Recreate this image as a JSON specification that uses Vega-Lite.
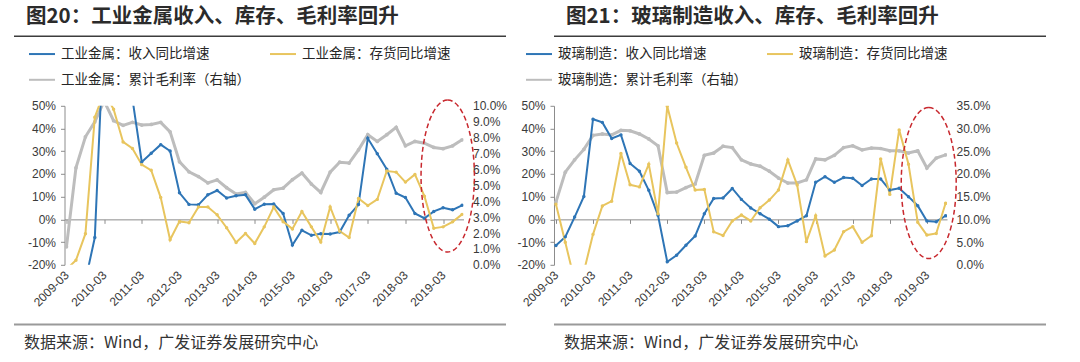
{
  "$schema": "https://vega.github.io/schema/vega-lite/v6.json",
  "padding": {"left": 13, "top": 6, "right": 5, "bottom": 5},
  "background": "white",
  "config": {
    "view": {"stroke": null},
    "axis": {"labelFont": "Liberation Sans", "labelFontSize": 12, "labelColor": "#3a3a3a", "grid": false}
  },
  "columns": 2,
  "spacing": {"row": 59.8, "column": 40},
  "bounds": "flush",
  "center": true,
  "resolve": {"scale": {"color": "independent"}, "legend": {"color": "independent"}},
  "concat": [
    {
      "width": 500, "height": 9.4,
      "data": {"values": []},
      "mark": {"type": "rule"},
      "encoding": {},
      "view": {"fill": null, "stroke": "#3c3c3c", "strokeWidth": 1.5, "strokeDash": [492, 3000]},
      "title": {"text": "图20：工业金属收入、库存、毛利率回升", "anchor": "start", "dx": 12, "dy": 16, "offset": 9, "baseline": "alphabetic", "font": "Noto Sans CJK SC", "fontSize": 20.5, "fontWeight": "bold", "color": "#2b2b2b"}
    },
    {
      "width": 496, "height": 9.4,
      "data": {"values": []},
      "mark": {"type": "rule"},
      "encoding": {},
      "view": {"fill": null, "stroke": "#3c3c3c", "strokeWidth": 1.5, "strokeDash": [492, 3000]},
      "title": {"text": "图21：玻璃制造收入、库存、毛利率回升", "anchor": "start", "dx": 12, "dy": 16, "offset": 9, "baseline": "alphabetic", "font": "Noto Sans CJK SC", "fontSize": 20.5, "fontWeight": "bold", "color": "#2b2b2b"}
    },
    {
      "width": 399, "height": 159,
      "data": {"values": [
        {"d": "2009-03-01", "i": -22, "g": 1.13},
        {"d": "2009-06-01", "i": -18, "g": 6.1},
        {"d": "2009-09-01", "r": -27, "i": -6.3, "g": 8.05},
        {"d": "2009-12-01", "r": -8, "i": 45, "g": 8.99},
        {"d": "2010-03-01", "r": 86, "i": 56, "g": 10.3},
        {"d": "2010-06-01", "r": 75, "i": 48.5, "g": 9.06},
        {"d": "2010-09-01", "r": 62, "i": 34.1, "g": 8.77},
        {"d": "2010-12-01", "r": 53, "i": 31.2, "g": 8.96},
        {"d": "2011-03-01", "r": 25.3, "i": 24.1, "g": 8.79},
        {"d": "2011-06-01", "r": 29.1, "i": 21.6, "g": 8.83},
        {"d": "2011-09-01", "r": 32.9, "i": 9.6, "g": 8.96},
        {"d": "2011-12-01", "r": 30.1, "i": -9.0, "g": 8.36},
        {"d": "2012-03-01", "r": 11.7, "i": -0.9, "g": 6.48},
        {"d": "2012-06-01", "r": 6.6, "i": -1.5, "g": 5.85},
        {"d": "2012-09-01", "r": 6.4, "i": 5.5, "g": 5.55},
        {"d": "2012-12-01", "r": 10.8, "i": 5.5, "g": 5.15},
        {"d": "2013-03-01", "r": 12.7, "i": 2.0, "g": 5.34},
        {"d": "2013-06-01", "r": 9.4, "i": -3.7, "g": 4.85},
        {"d": "2013-09-01", "r": 10.4, "i": -10.2, "g": 4.45},
        {"d": "2013-12-01", "r": 10.8, "i": -6.2, "g": 4.55},
        {"d": "2014-03-01", "r": 4.5, "i": -10.6, "g": 3.84},
        {"d": "2014-06-01", "r": 6.7, "i": -3.3, "g": 4.25},
        {"d": "2014-09-01", "r": 6.8, "i": 5.4, "g": 4.72},
        {"d": "2014-12-01", "r": 2.6, "i": -1.0, "g": 4.82},
        {"d": "2015-03-01", "r": -11.3, "i": -4.2, "g": 5.35},
        {"d": "2015-06-01", "r": -4.8, "i": 3.5, "g": 5.77},
        {"d": "2015-09-01", "r": -7.0, "i": -3.3, "g": 5.08},
        {"d": "2015-12-01", "r": -6.3, "i": -10.0, "g": 4.55},
        {"d": "2016-03-01", "r": -6.4, "i": 5.5, "g": 5.83},
        {"d": "2016-06-01", "r": -5.6, "i": -5.2, "g": 6.45},
        {"d": "2016-09-01", "r": 1.8, "i": -8.0, "g": 6.40},
        {"d": "2016-12-01", "r": 6.5, "i": 9.2, "g": 7.23},
        {"d": "2017-03-01", "r": 35.7, "i": 6.1, "g": 8.18},
        {"d": "2017-06-01", "r": 28.9, "i": 8.8, "g": 7.76},
        {"d": "2017-09-01", "r": 22.1, "i": 21.3, "g": 8.18},
        {"d": "2017-12-01", "r": 11.5, "i": 20.8, "g": 8.64},
        {"d": "2018-03-01", "r": 9.6, "i": 16.4, "g": 7.48},
        {"d": "2018-06-01", "r": 2.6, "i": 19.8, "g": 7.76},
        {"d": "2018-09-01", "r": 0.5, "i": 10.2, "g": 7.65},
        {"d": "2018-12-01", "r": 3.5, "i": -3.9, "g": 7.38},
        {"d": "2019-03-01", "r": 5.1, "i": -3.3, "g": 7.30},
        {"d": "2019-06-01", "r": 4.2, "i": -1.1, "g": 7.48},
        {"d": "2019-09-01", "r": 6.2, "i": 2.2, "g": 7.86}
      ]},
      "resolve": {"scale": {"y": "independent"}, "axis": {"x": "independent", "y": "independent"}},
      "layer": [
        {
          "transform": [{"fold": ["g"], "as": ["s", "v"]}],
          "mark": {"type": "line", "clip": true, "strokeWidth": 3, "point": {"filled": true, "size": 14}},
          "encoding": {
            "x": {"field": "d", "type": "temporal",
              "scale": {"type": "utc", "domain": [{"year": 2009, "month": 2, "date": 10, "utc": true}, {"year": 2019, "month": 9, "date": 15, "utc": true}]},
              "axis": {"orient": "bottom", "offset": -45.43, "labels": false, "domain": true, "domainColor": "#8c8c8c", "domainWidth": 1, "ticks": true, "tickSize": 4, "tickColor": "#8c8c8c", "title": null,
                "values": [{"year": 2009, "month": 3, "date": 1, "utc": true}, {"year": 2010, "month": 3, "date": 1, "utc": true}, {"year": 2011, "month": 3, "date": 1, "utc": true}, {"year": 2012, "month": 3, "date": 1, "utc": true}, {"year": 2013, "month": 3, "date": 1, "utc": true}, {"year": 2014, "month": 3, "date": 1, "utc": true}, {"year": 2015, "month": 3, "date": 1, "utc": true}, {"year": 2016, "month": 3, "date": 1, "utc": true}, {"year": 2017, "month": 3, "date": 1, "utc": true}, {"year": 2018, "month": 3, "date": 1, "utc": true}, {"year": 2019, "month": 3, "date": 1, "utc": true}]}},
            "y": {"field": "v", "type": "quantitative", "scale": {"domain": [0, 10], "nice": false, "zero": false},
              "axis": {"orient": "right", "values": [0, 1, 2, 3, 4, 5, 6, 7, 8, 9, 10], "labelExpr": "format(datum.value, '.1f') + '%'", "domain": false, "ticks": false, "labelPadding": 9, "title": null}},
            "color": {"field": "s", "type": "nominal",
              "scale": {"domain": ["r", "i", "g"], "range": ["#2E75B6", "#E8C55E", "#BDBDBD"]},
              "legend": {"orient": "none", "legendX": -36.5, "legendY": -66, "direction": "horizontal", "columns": 2, "columnPadding": 16, "rowPadding": 5, "symbolType": "stroke", "symbolSize": 676, "symbolStrokeWidth": 2, "labelFont": "Noto Sans CJK SC", "labelFontSize": 13.5, "labelColor": "#262626", "labelOffset": 5, "labelLimit": 400, "title": null, "padding": 0,
                "labelExpr": "datum.label == 'r' ? '工业金属：收入同比增速' : datum.label == 'i' ? '工业金属：存货同比增速' : '工业金属：累计毛利率（右轴）'"}}
          }
        },
        {
          "transform": [{"fold": ["r", "i"], "as": ["s", "v"]}],
          "mark": {"type": "line", "clip": true, "strokeWidth": 2, "point": {"filled": true, "size": 12}},
          "encoding": {
            "x": {"field": "d", "type": "temporal",
              "axis": {"orient": "bottom", "labelExpr": "utcFormat(datum.value, '%Y-%m')", "labelAngle": -45, "labelAlign": "right", "labelBaseline": "middle", "labelPadding": 8, "labelOverlap": false, "domain": false, "ticks": false, "title": null,
                "values": [{"year": 2009, "month": 3, "date": 1, "utc": true}, {"year": 2010, "month": 3, "date": 1, "utc": true}, {"year": 2011, "month": 3, "date": 1, "utc": true}, {"year": 2012, "month": 3, "date": 1, "utc": true}, {"year": 2013, "month": 3, "date": 1, "utc": true}, {"year": 2014, "month": 3, "date": 1, "utc": true}, {"year": 2015, "month": 3, "date": 1, "utc": true}, {"year": 2016, "month": 3, "date": 1, "utc": true}, {"year": 2017, "month": 3, "date": 1, "utc": true}, {"year": 2018, "month": 3, "date": 1, "utc": true}, {"year": 2019, "month": 3, "date": 1, "utc": true}]}},
            "y": {"field": "v", "type": "quantitative", "scale": {"domain": [-20, 50], "nice": false},
              "axis": {"orient": "left", "values": [-20, -10, 0, 10, 20, 30, 40, 50], "labelExpr": "datum.value + '%'", "domain": true, "domainColor": "#8c8c8c", "ticks": true, "tickSize": 4, "tickColor": "#8c8c8c", "labelPadding": 5, "title": null}},
            "color": {"field": "s", "type": "nominal",
              "scale": {"domain": ["r", "i", "g"], "range": ["#2E75B6", "#E8C55E", "#BDBDBD"]},
              "legend": {"orient": "none", "legendX": -36.5, "legendY": -66, "direction": "horizontal", "columns": 2, "columnPadding": 16, "rowPadding": 5, "symbolType": "stroke", "symbolSize": 676, "symbolStrokeWidth": 2, "labelFont": "Noto Sans CJK SC", "labelFontSize": 13.5, "labelColor": "#262626", "labelOffset": 5, "labelLimit": 400, "title": null, "padding": 0,
                "labelExpr": "datum.label == 'r' ? '工业金属：收入同比增速' : datum.label == 'i' ? '工业金属：存货同比增速' : '工业金属：累计毛利率（右轴）'"}}
          }
        },
        {
          "data": {"values": [{"d": "2019-04-15", "v": 19.1}]},
          "mark": {"type": "point", "shape": "M0,-1A0.351,1,0,1,1,0,1A0.351,1,0,1,1,0,-1Z", "size": 23104, "filled": false, "color": "#C8282E", "strokeWidth": 1.5, "strokeDash": [5, 3], "opacity": 1},
          "encoding": {
            "x": {"field": "d", "type": "temporal", "axis": null},
            "y": {"field": "v", "type": "quantitative", "scale": {"domain": [-20, 50], "nice": false}, "axis": null}
          }
        }
      ]
    },
    {
      "width": 393, "height": 159,
      "data": {"values": [
        {"d": "2009-03-01", "r": -11.5, "i": 6.7, "g": 13.8},
        {"d": "2009-06-01", "r": -7.7, "i": -10.1, "g": 20.4},
        {"d": "2009-09-01", "r": 1.0, "i": -27, "g": 23.1},
        {"d": "2009-12-01", "r": 10.1, "i": -23, "g": 25.4},
        {"d": "2010-03-01", "r": 44.1, "i": -6.6, "g": 28.5},
        {"d": "2010-06-01", "r": 42.7, "i": 5.9, "g": 28.8},
        {"d": "2010-09-01", "r": 35.6, "i": 8.0, "g": 28.6},
        {"d": "2010-12-01", "r": 37.2, "i": 29.0, "g": 29.6},
        {"d": "2011-03-01", "r": 24.6, "i": 15.2, "g": 29.5},
        {"d": "2011-06-01", "r": 21.2, "i": 14.3, "g": 28.8},
        {"d": "2011-09-01", "r": 12.8, "i": 24.3, "g": 27.7},
        {"d": "2011-12-01", "r": 1.8, "i": 2.5, "g": 26.2},
        {"d": "2012-03-01", "r": -18.7, "i": 49.8, "g": 15.9},
        {"d": "2012-06-01", "r": -15.8, "i": 33.6, "g": 16.0},
        {"d": "2012-09-01", "r": -11.4, "i": 22.9, "g": 17.0},
        {"d": "2012-12-01", "r": -7.3, "i": 12.9, "g": 17.8},
        {"d": "2013-03-01", "r": 2.5, "i": 13.2, "g": 24.1},
        {"d": "2013-06-01", "r": 9.2, "i": -5.5, "g": 24.6},
        {"d": "2013-09-01", "r": 9.4, "i": -7.1, "g": 26.1},
        {"d": "2013-12-01", "r": 13.6, "i": -0.7, "g": 25.8},
        {"d": "2014-03-01", "r": 8.8, "i": 1.9, "g": 23.1},
        {"d": "2014-06-01", "r": 5.0, "i": -0.7, "g": 22.2},
        {"d": "2014-09-01", "r": 2.5, "i": 5.1, "g": 21.7},
        {"d": "2014-12-01", "r": 0.1, "i": 8.5, "g": 20.6},
        {"d": "2015-03-01", "r": -3.2, "i": 12.9, "g": 19.1},
        {"d": "2015-06-01", "r": -2.8, "i": 26.2, "g": 18.0},
        {"d": "2015-09-01", "r": -0.7, "i": 15.1, "g": 18.0},
        {"d": "2015-12-01", "r": 1.6, "i": -9.8, "g": 18.7},
        {"d": "2016-03-01", "r": 16.3, "i": 1.6, "g": 23.3},
        {"d": "2016-06-01", "r": 18.8, "i": -16.1, "g": 23.1},
        {"d": "2016-09-01", "r": 16.3, "i": -13.5, "g": 24.1},
        {"d": "2016-12-01", "r": 18.4, "i": -5.4, "g": 25.8},
        {"d": "2017-03-01", "r": 18.1, "i": -3.2, "g": 26.2},
        {"d": "2017-06-01", "r": 14.9, "i": -10.1, "g": 25.3},
        {"d": "2017-09-01", "r": 17.8, "i": -7.2, "g": 25.7},
        {"d": "2017-12-01", "r": 17.8, "i": 26.6, "g": 25.6},
        {"d": "2018-03-01", "r": 12.9, "i": 11.0, "g": 25.1},
        {"d": "2018-06-01", "r": 13.7, "i": 39.4, "g": 25.1},
        {"d": "2018-09-01", "r": 10.0, "i": 24.3, "g": 24.6},
        {"d": "2018-12-01", "r": 6.0, "i": -1.3, "g": 25.1},
        {"d": "2019-03-01", "r": -0.7, "i": -6.9, "g": 21.3},
        {"d": "2019-06-01", "r": -1.0, "i": -6.2, "g": 23.5},
        {"d": "2019-09-01", "r": 1.6, "i": 7.1, "g": 24.2}
      ]},
      "resolve": {"scale": {"y": "independent"}, "axis": {"x": "independent", "y": "independent"}},
      "layer": [
        {
          "transform": [{"fold": ["g"], "as": ["s", "v"]}],
          "mark": {"type": "line", "clip": true, "strokeWidth": 3, "point": {"filled": true, "size": 14}},
          "encoding": {
            "x": {"field": "d", "type": "temporal",
              "scale": {"type": "utc", "domain": [{"year": 2009, "month": 2, "date": 10, "utc": true}, {"year": 2019, "month": 9, "date": 15, "utc": true}]},
              "axis": {"orient": "bottom", "offset": -45.43, "labels": false, "domain": true, "domainColor": "#8c8c8c", "domainWidth": 1, "ticks": true, "tickSize": 4, "tickColor": "#8c8c8c", "title": null,
                "values": [{"year": 2009, "month": 3, "date": 1, "utc": true}, {"year": 2010, "month": 3, "date": 1, "utc": true}, {"year": 2011, "month": 3, "date": 1, "utc": true}, {"year": 2012, "month": 3, "date": 1, "utc": true}, {"year": 2013, "month": 3, "date": 1, "utc": true}, {"year": 2014, "month": 3, "date": 1, "utc": true}, {"year": 2015, "month": 3, "date": 1, "utc": true}, {"year": 2016, "month": 3, "date": 1, "utc": true}, {"year": 2017, "month": 3, "date": 1, "utc": true}, {"year": 2018, "month": 3, "date": 1, "utc": true}, {"year": 2019, "month": 3, "date": 1, "utc": true}]}},
            "y": {"field": "v", "type": "quantitative", "scale": {"domain": [0, 35], "nice": false, "zero": false},
              "axis": {"orient": "right", "values": [0, 5, 10, 15, 20, 25, 30, 35], "labelExpr": "format(datum.value, '.1f') + '%'", "domain": false, "ticks": false, "labelPadding": 9, "title": null}},
            "color": {"field": "s", "type": "nominal",
              "scale": {"domain": ["r", "i", "g"], "range": ["#2E75B6", "#E8C55E", "#BDBDBD"]},
              "legend": {"orient": "none", "legendX": -29, "legendY": -66, "direction": "horizontal", "columns": 2, "columnPadding": 16, "rowPadding": 5, "symbolType": "stroke", "symbolSize": 676, "symbolStrokeWidth": 2, "labelFont": "Noto Sans CJK SC", "labelFontSize": 13.5, "labelColor": "#262626", "labelOffset": 5, "labelLimit": 400, "title": null, "padding": 0,
                "labelExpr": "datum.label == 'r' ? '玻璃制造：收入同比增速' : datum.label == 'i' ? '玻璃制造：存货同比增速' : '玻璃制造：累计毛利率（右轴）'"}}
          }
        },
        {
          "transform": [{"fold": ["r", "i"], "as": ["s", "v"]}],
          "mark": {"type": "line", "clip": true, "strokeWidth": 2, "point": {"filled": true, "size": 12}},
          "encoding": {
            "x": {"field": "d", "type": "temporal",
              "axis": {"orient": "bottom", "labelExpr": "utcFormat(datum.value, '%Y-%m')", "labelAngle": -45, "labelAlign": "right", "labelBaseline": "middle", "labelPadding": 8, "labelOverlap": false, "domain": false, "ticks": false, "title": null,
                "values": [{"year": 2009, "month": 3, "date": 1, "utc": true}, {"year": 2010, "month": 3, "date": 1, "utc": true}, {"year": 2011, "month": 3, "date": 1, "utc": true}, {"year": 2012, "month": 3, "date": 1, "utc": true}, {"year": 2013, "month": 3, "date": 1, "utc": true}, {"year": 2014, "month": 3, "date": 1, "utc": true}, {"year": 2015, "month": 3, "date": 1, "utc": true}, {"year": 2016, "month": 3, "date": 1, "utc": true}, {"year": 2017, "month": 3, "date": 1, "utc": true}, {"year": 2018, "month": 3, "date": 1, "utc": true}, {"year": 2019, "month": 3, "date": 1, "utc": true}]}},
            "y": {"field": "v", "type": "quantitative", "scale": {"domain": [-20, 50], "nice": false},
              "axis": {"orient": "left", "values": [-20, -10, 0, 10, 20, 30, 40, 50], "labelExpr": "datum.value + '%'", "domain": true, "domainColor": "#8c8c8c", "ticks": true, "tickSize": 4, "tickColor": "#8c8c8c", "labelPadding": 5, "title": null}},
            "color": {"field": "s", "type": "nominal",
              "scale": {"domain": ["r", "i", "g"], "range": ["#2E75B6", "#E8C55E", "#BDBDBD"]},
              "legend": {"orient": "none", "legendX": -29, "legendY": -66, "direction": "horizontal", "columns": 2, "columnPadding": 16, "rowPadding": 5, "symbolType": "stroke", "symbolSize": 676, "symbolStrokeWidth": 2, "labelFont": "Noto Sans CJK SC", "labelFontSize": 13.5, "labelColor": "#262626", "labelOffset": 5, "labelLimit": 400, "title": null, "padding": 0,
                "labelExpr": "datum.label == 'r' ? '玻璃制造：收入同比增速' : datum.label == 'i' ? '玻璃制造：存货同比增速' : '玻璃制造：累计毛利率（右轴）'"}}
          }
        },
        {
          "data": {"values": [{"d": "2019-03-19", "v": 16.0}]},
          "mark": {"type": "point", "shape": "M0,-1A0.364,1,0,1,1,0,1A0.364,1,0,1,1,0,-1Z", "size": 22801, "filled": false, "color": "#C8282E", "strokeWidth": 1.5, "strokeDash": [5, 3], "opacity": 1},
          "encoding": {
            "x": {"field": "d", "type": "temporal", "axis": null},
            "y": {"field": "v", "type": "quantitative", "scale": {"domain": [-20, 50], "nice": false}, "axis": null}
          }
        }
      ]
    },
    {
      "width": 500, "height": 2,
      "data": {"values": []},
      "mark": {"type": "rule"},
      "encoding": {},
      "view": {"fill": null, "stroke": "#9a9a9a", "strokeWidth": 2, "strokeDash": [492, 3000]},
      "title": {"text": "数据来源：Wind，广发证券发展研究中心", "orient": "bottom", "anchor": "start", "dx": 10, "offset": 21, "baseline": "alphabetic", "font": "Noto Sans CJK SC", "fontSize": 16, "fontWeight": "normal", "color": "#333333"}
    },
    {
      "width": 496, "height": 2,
      "data": {"values": []},
      "mark": {"type": "rule"},
      "encoding": {},
      "view": {"fill": null, "stroke": "#9a9a9a", "strokeWidth": 2, "strokeDash": [492, 3000]},
      "title": {"text": "数据来源：Wind，广发证券发展研究中心", "orient": "bottom", "anchor": "start", "dx": 10, "offset": 21, "baseline": "alphabetic", "font": "Noto Sans CJK SC", "fontSize": 16, "fontWeight": "normal", "color": "#333333"}
    }
  ]
}
